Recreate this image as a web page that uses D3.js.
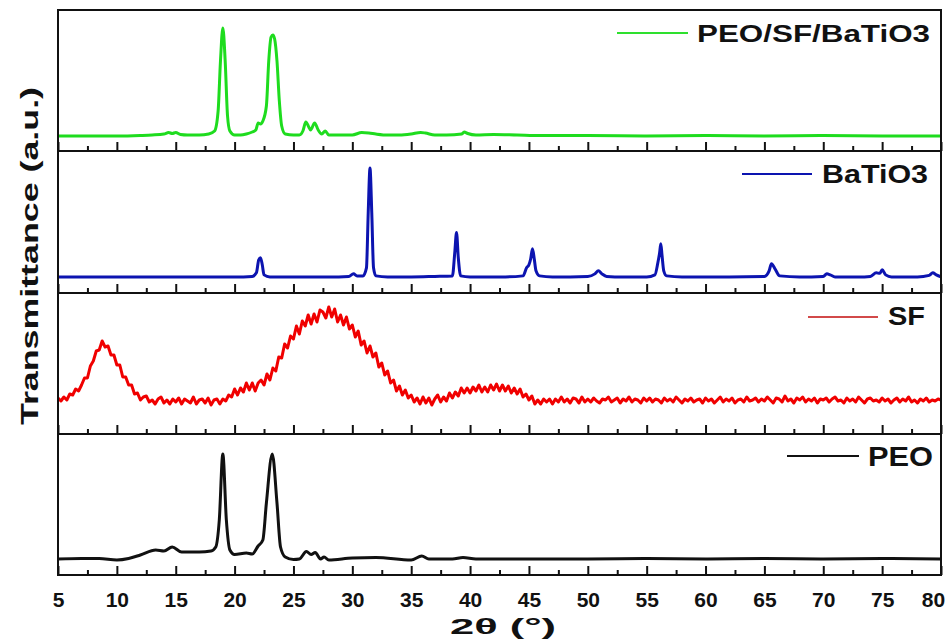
<!DOCTYPE html>
<html>
<head>
<meta charset="utf-8">
<script src="https://cdn.jsdelivr.net/npm/d3@7"></script>
<style>
  body { margin: 0; background: #fff; }
  svg text { font-family: Arial, "Liberation Sans", sans-serif; font-weight: bold; fill: #111; }
</style>
</head>
<body>
<div id="chart"></div>
<script>
// x axis
const xTicks = [5, 10, 15, 20, 25, 30, 35, 40, 45, 50, 55, 60, 65, 70, 75, 80]
const xMinor = [7.5, 12.5, 17.5, 22.5, 27.5, 32.5, 37.5, 42.5, 47.5, 52.5, 57.5, 62.5, 67.5, 72.5, 77.5]

// PEO/SF/BaTiO3 (green), [2theta, intensity]
const compositeData = [
  [5, 15], [8, 15], [10, 15], [12, 15.5], [13, 16], [14, 17], [14.4, 18.5], [14.7, 17.5], [15, 18.5],
  [15.4, 16.5], [16, 16], [17, 16], [17.8, 17], [18.3, 20], [18.6, 40], [18.8, 90], [19.0, 123],
  [19.2, 90], [19.4, 35], [19.6, 20], [20, 16], [20.5, 16], [21, 17], [21.5, 19], [21.8, 21],
  [22.0, 28], [22.2, 27], [22.4, 30], [22.7, 45], [22.9, 90], [23.1, 114], [23.25, 116], [23.4, 112],
  [23.6, 90], [23.8, 50], [24.0, 25], [24.3, 17], [25, 16], [25.5, 16], [25.8, 20], [26.05, 29],
  [26.3, 24], [26.45, 21], [26.8, 28], [27.1, 21], [27.4, 17], [27.7, 20], [28, 16], [29, 16],
  [30, 16], [30.8, 18.5], [31.4, 18], [32, 17], [33, 16], [34, 16], [35, 17], [35.8, 18.5],
  [36.2, 18], [37, 16], [38, 16], [39.3, 17], [39.5, 19], [39.8, 17.5], [40.5, 16], [42, 16.5],
  [44, 16], [46, 15.5], [50, 15.5], [55, 15], [60, 15.5], [65, 15], [70, 15.5], [75, 15], [80, 15]
]

// BaTiO3 (blue)
const batio3Data = [
  [5, 16], [10, 16], [15, 16], [20, 16], [21.5, 16.5], [21.85, 20], [22.05, 33], [22.2, 35],
  [22.35, 28], [22.5, 18], [23, 16], [25, 16], [28, 16], [29.7, 16.5], [30.1, 19], [30.4, 17],
  [30.9, 17], [31.2, 25], [31.35, 80], [31.5, 124], [31.65, 80], [31.8, 25], [32, 17], [33, 16],
  [35, 16], [37, 16.5], [38.5, 17], [38.7, 40], [38.85, 60], [39.0, 35], [39.2, 17], [40, 16],
  [43, 16], [44.5, 17], [44.8, 25], [45.0, 28], [45.15, 34], [45.3, 44], [45.45, 34], [45.6, 22],
  [45.9, 17], [47, 16], [50, 16.5], [50.6, 19], [50.9, 22], [51.2, 19], [51.6, 16.5], [53, 16],
  [55, 16], [55.7, 18], [55.95, 30], [56.1, 40], [56.2, 49], [56.3, 38], [56.45, 22], [56.7, 17],
  [58, 16], [62, 16], [65, 16.5], [65.4, 22], [65.6, 29], [65.9, 24], [66.3, 17], [68, 16],
  [70, 16.5], [70.3, 19], [70.6, 18], [71, 16], [73, 16], [74, 16.5], [74.5, 20], [74.8, 19.5],
  [75.0, 23], [75.3, 18], [75.8, 16], [78, 16], [79, 17.5], [79.3, 20], [79.6, 18], [80, 16]
]

// SF (red), one value every 0.25 degree from 5 to 80
const sfStart = 5
const sfStep = 0.25
const sfValues = [
  36, 33, 37, 34, 40, 39, 45, 43, 49, 56, 56, 68, 73, 83, 84, 93, 87, 88, 79, 79,
  69, 69, 57, 57, 49, 49, 40, 41, 34, 37, 38, 32, 34, 30, 35, 37, 31, 34, 30, 35,
  32, 36, 30, 35, 33, 31, 37, 30, 34, 35, 31, 36, 29, 34, 35, 30, 35, 33, 39, 37,
  45, 39, 46, 42, 51, 44, 51, 43, 51, 54, 49, 60, 54, 66, 63, 77, 76, 90, 86, 98,
  95, 108, 100, 113, 108, 119, 110, 120, 112, 124, 122, 116, 127, 117, 125, 112, 119, 109, 117, 105,
  109, 97, 103, 89, 93, 81, 88, 77, 81, 67, 71, 59, 63, 51, 54, 43, 48, 39, 44, 36,
  39, 32, 36, 30, 37, 31, 36, 29, 35, 39, 32, 37, 33, 41, 36, 42, 38, 46, 41, 46,
  41, 47, 43, 49, 42, 47, 42, 49, 44, 50, 43, 49, 43, 48, 41, 46, 40, 45, 37, 40,
  34, 38, 30, 34, 30, 35, 32, 35, 30, 35, 32, 37, 32, 35, 31, 36, 35, 31, 37, 32,
  35, 32, 36, 33, 31, 35, 34, 37, 32, 34, 36, 31, 35, 33, 37, 32, 35, 34, 31, 36,
  33, 36, 32, 35, 34, 31, 36, 33, 35, 32, 37, 34, 31, 35, 33, 36, 32, 34, 35, 31,
  36, 33, 35, 31, 34, 37, 32, 35, 33, 36, 31, 34, 35, 32, 37, 33, 34, 36, 32, 35,
  33, 37, 34, 31, 36, 35, 32, 38, 33, 35, 31, 36, 34, 37, 32, 35, 33, 36, 31, 35,
  34, 36, 32, 35, 37, 33, 34, 31, 36, 33, 35, 32, 37, 34, 31, 35, 36, 33, 34, 32,
  36, 33, 35, 31, 34, 36, 32, 35, 33, 37, 32, 34, 31, 35, 33, 36, 32, 34, 33, 35,
  34
]

// PEO (black)
const peoData = [
  [5, 16], [7, 16.5], [8.5, 16.5], [10, 15], [11, 16.5], [12, 20], [13.3, 25], [14, 24],
  [14.7, 28], [15.5, 23], [16, 23], [17, 23], [18, 24], [18.4, 28], [18.7, 55], [19.0, 121],
  [19.3, 55], [19.6, 25], [20, 20.5], [21, 22], [21.5, 21], [22, 29], [22.4, 35], [22.7, 72],
  [23.2, 121], [23.6, 72], [23.9, 28], [24.3, 18], [25, 15.5], [25.5, 16], [26.1, 23.5],
  [26.5, 20.5], [26.85, 22.5], [27.3, 16], [27.6, 18], [28, 15], [30, 17], [32, 17.5], [35, 15],
  [35.9, 19], [36.5, 16], [38.5, 16], [39.4, 17.5], [40.5, 16], [45, 16], [50, 16], [55, 16.5],
  [60, 16], [65, 16.5], [70, 16], [75, 16.5], [80, 16]
]

const panels = [
  { name: 'PEO/SF/BaTiO3', color: '#1edc1e', legendColor: '#2ee02e', data: compositeData, curve: d3.curveMonotoneX, width: 3,
    top: 10, bottom: 151, leg: { x1: 617, x2: 688, y: 33, tx: 697, ty: 42, size: 24, len: 233 } },
  { name: 'BaTiO3', color: '#0c14b0', legendColor: '#0c14b0', data: batio3Data, curve: d3.curveMonotoneX, width: 3,
    top: 151, bottom: 293, leg: { x1: 742, x2: 812, y: 174, tx: 822, ty: 183, size: 25, len: 106 } },
  { name: 'SF', color: '#f00000', legendColor: '#d24a4a', data: sfValues.map((v, i) => [sfStart + i * sfStep, v]), curve: d3.curveLinear, width: 3,
    top: 293, bottom: 434, leg: { x1: 808, x2: 878, y: 317, tx: 888, ty: 325, size: 25, len: 37 } },
  { name: 'PEO', color: '#111111', legendColor: '#111111', data: peoData, curve: d3.curveMonotoneX, width: 3,
    top: 434, bottom: 575, leg: { x1: 787, x2: 859, y: 456, tx: 868, ty: 466, size: 27, len: 65 } }
]

const width = 951
const height = 642
const left = 58
const right = 941

const svg = d3.select('#chart').append('svg')
  .attr('width', width)
  .attr('height', height)

const x = d3.scaleLinear().domain([5, 80]).range([left, right])

panels.forEach((p, i) => {
  const y = d3.scaleLinear().domain([0, 141]).range([p.bottom, p.top])

  const line = d3.line()
    .x(d => x(d[0]))
    .y(d => y(d[1]))
    .curve(p.curve)

  svg.append('path')
    .datum(p.data)
    .attr('d', line)
    .attr('fill', 'none')
    .attr('stroke', p.color)
    .attr('stroke-width', p.width)
    .attr('stroke-linejoin', 'round')

  // major ticks pointing inward
  const major = svg.append('g')
    .attr('transform', `translate(0,${p.bottom})`)
    .call(d3.axisBottom(x).tickValues(xTicks).tickSizeInner(-9).tickSizeOuter(0).tickPadding(14))
  major.select('.domain').remove()
  major.selectAll('line').attr('stroke', '#111').attr('stroke-width', 2)
  if (i === panels.length - 1) {
    major.selectAll('text')
      .attr('font-size', 21)
      .attr('font-weight', 'bold')
      .attr('fill', '#111')
      .attr('font-family', 'Arial, "Liberation Sans", sans-serif')
      .attr('dx', d => d === 80 ? -8 : 0)
      .attr('y', 17)
  } else {
    major.selectAll('text').remove()
  }

  const minor = svg.append('g')
    .attr('transform', `translate(0,${p.bottom})`)
    .call(d3.axisBottom(x).tickValues(xMinor).tickSizeInner(-5).tickSizeOuter(0).tickFormat(''))
  minor.select('.domain').remove()
  minor.selectAll('line').attr('stroke', '#111').attr('stroke-width', 2)

  // panel separator
  svg.append('line')
    .attr('x1', left).attr('x2', right)
    .attr('y1', p.bottom).attr('y2', p.bottom)
    .attr('stroke', '#111').attr('stroke-width', 2)

  // legend
  svg.append('line')
    .attr('x1', p.leg.x1).attr('x2', p.leg.x2)
    .attr('y1', p.leg.y).attr('y2', p.leg.y)
    .attr('stroke', p.legendColor)
    .attr('stroke-width', 2)
  svg.append('text')
    .attr('x', p.leg.tx)
    .attr('y', p.leg.ty)
    .attr('font-size', p.leg.size)
    .attr('textLength', p.leg.len)
    .attr('lengthAdjust', 'spacingAndGlyphs')
    .text(p.name)
})

// outer frame
svg.append('rect')
  .attr('x', left).attr('y', 10)
  .attr('width', right - left).attr('height', 575 - 10)
  .attr('fill', 'none')
  .attr('stroke', '#111')
  .attr('stroke-width', 2)

// axis titles
svg.append('text')
  .attr('x', 503)
  .attr('y', 634)
  .attr('text-anchor', 'middle')
  .attr('font-size', 22)
  .attr('textLength', 106)
  .attr('lengthAdjust', 'spacingAndGlyphs')
  .text('2θ (°)')

svg.append('text')
  .attr('transform', 'translate(38,256) rotate(-90)')
  .attr('text-anchor', 'middle')
  .attr('font-size', 24)
  .attr('textLength', 338)
  .attr('lengthAdjust', 'spacingAndGlyphs')
  .text('Transmittance (a.u.)')
</script>
</body>
</html>
